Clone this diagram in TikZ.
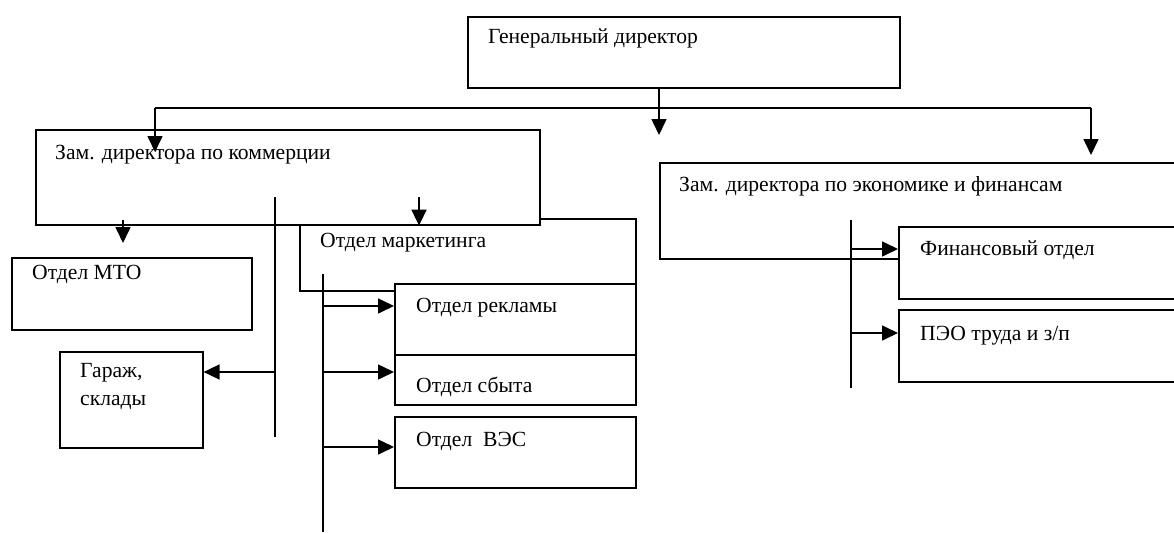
\documentclass[tikz,border=0pt]{standalone}
\usepackage{fontspec}
\setmainfont{Liberation Serif}
\usetikzlibrary{arrows.meta}
\begin{document}
\begin{tikzpicture}[x=1pt,y=-1pt,
  box/.style={draw,line width=1.6pt,fill=white,rectangle,inner sep=0pt,anchor=north west},
  txt/.style={anchor=base west,inner sep=0pt,font=\fontsize{21.6}{25}\selectfont,align=left},
  ln/.style={line width=1.6pt},
  arr/.style={line width=1.6pt,-{Triangle[length=16pt,width=15pt]}}]
\useasboundingbox (0,0) rectangle (1174,533);
\clip (0,0) rectangle (1174,533);
% boxes
\node[box,minimum width=432pt,minimum height=71pt] (gen) at (467,16) {};
\node[box,minimum width=336pt,minimum height=72pt] (mkt) at (299,218) {};
\node[box,minimum width=504pt,minimum height=95pt] (com) at (35,129) {};
\node[box,minimum width=241pt,minimum height=71pt] (rek) at (394,283) {};
\node[box,minimum width=241pt,minimum height=50pt] (sbt) at (394,354) {};
\node[box,minimum width=241pt,minimum height=71pt] (ves) at (394,416) {};
\node[box,minimum width=240pt,minimum height=72pt] (mto) at (11,257) {};
\node[box,minimum width=143pt,minimum height=96pt] (gar) at (59,351) {};
\node[box,minimum width=540pt,minimum height=96pt] (eco) at (659,162) {};
\node[box,minimum width=300pt,minimum height=72pt] (fin) at (898,226) {};
\node[box,minimum width=300pt,minimum height=72pt] (peo) at (898,309) {};
% texts
\node[txt] (tgen) at (488,43) {Генеральный директор};
\node[txt] (tcom) at (55,159) {Зам. директора по коммерции};
\node[txt] (teco) at (679,191) {Зам. директора по экономике и финансам};
\node[txt] (tfin) at (920,255) {Финансовый отдел};
\node[txt] (tpeo) at (920,340) {ПЭО труда и з/п};
\node[txt] (tmto) at (32,279) {Отдел МТО};
\node[txt] (tgar1) at (80,377) {Гараж,};
\node[txt] (tgar2) at (80,405) {склады};
\node[txt] (tmkt) at (320,247) {Отдел маркетинга};
\node[txt] (trek) at (416,312) {Отдел рекламы};
\node[txt] (tsbt) at (416,392) {Отдел сбыта};
\node[txt] (tves) at (416,446) {Отдел\ \ ВЭС};
% top connectors
\coordinate (hl) at (155,108);
\coordinate (hr) at (1091,108);
\coordinate (gtip) at (659,135);
\coordinate (ltip) at (155,152);
\coordinate (rtip) at (1091,155);
\draw[ln] (hl) -- (hr);
\draw[arr] (gtip |- gen.south) -- (gtip);
\draw[arr] (hl) -- (ltip);
\draw[arr] (hr) -- (rtip);
% commerce
\coordinate (m0) at (123,220);
\coordinate (m1) at (123,243);
\draw[arr] (m0) -- (m1);
\coordinate (v1a) at (275,197);
\coordinate (v1b) at (275,437);
\coordinate (v1g) at (275,372);
\draw[ln] (v1a) -- (v1b);
\draw[arr] (v1g) -- (v1g -| gar.east);
\coordinate (k0) at (419,197);
\draw[arr] (k0) -- (k0 |- com.south);
% marketing
\coordinate (v2a) at (323,274);
\coordinate (v2b) at (323,532);
\coordinate (v2r) at (323,306);
\coordinate (v2s) at (323,372);
\coordinate (v2v) at (323,447);
\draw[ln] (v2a) -- (v2b);
\draw[arr] (v2r) -- (v2r -| rek.west);
\draw[arr] (v2s) -- (v2s -| sbt.west);
\draw[arr] (v2v) -- (v2v -| ves.west);
% economics
\coordinate (v3a) at (851,220);
\coordinate (v3b) at (851,388);
\coordinate (v3f) at (851,249);
\coordinate (v3p) at (851,333);
\draw[ln] (v3a) -- (v3b);
\draw[arr] (v3f) -- (v3f -| fin.west);
\draw[arr] (v3p) -- (v3p -| peo.west);
\end{tikzpicture}
\end{document}
